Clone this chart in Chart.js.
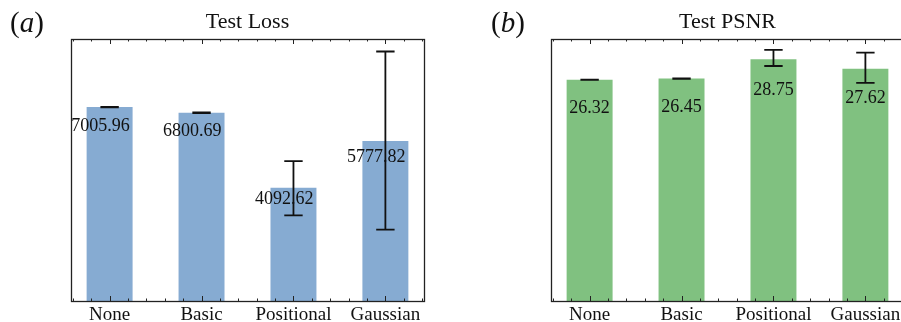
<!DOCTYPE html>
<html>
<head>
<meta charset="utf-8">
<script src="https://cdn.jsdelivr.net/npm/chart.js@4.4.0/dist/chart.umd.min.js"></script>
<style>
  html, body { margin: 0; padding: 0; background: #fff; width: 901px; height: 322px; overflow: hidden; }
  .panel { position: absolute; top: 0; height: 322px; }
  .tag { position: absolute; font-family: "Liberation Serif", serif; font-size: 29px; line-height: 29px; color: #111; }
</style>
</head>
<body>
<div class="panel" style="left:0;width:450px"><canvas id="chartLoss" width="450" height="322"></canvas></div>
<div class="panel" style="left:450px;width:460px"><canvas id="chartPsnr" width="460" height="322"></canvas></div>
<div class="tag" style="left:10px;top:8px">(<i>a</i>)</div>
<div class="tag" style="left:491px;top:8px">(<i>b</i>)</div>
<script>
const categories = ['None', 'Basic', 'Positional', 'Gaussian'];

const lossValues = [7005.96, 6800.69, 4092.62, 5777.82];
const lossErrUp = [10, 10, 964, 3238];
const lossErrDown = [10, 10, 996, 3202];
const lossMax = 9467;

const psnrValues = [26.32, 26.45, 28.75, 27.62];
const psnrErrUp = [0.02, 0.02, 1.11, 1.91];
const psnrErrDown = [0.02, 0.02, 0.80, 1.67];
const psnrMax = 31.16;

const SERIF = '"Liberation Serif", serif';

// value labels, error bars, box frame and inward ticks
const barExtras = {
  id: 'barExtras',
  afterDatasetsDraw(chart, args, opts) {
    const { ctx } = chart;
    const x = chart.scales.x;
    const y = chart.scales.y;
    const values = chart.data.datasets[0].data.map(d => d.y);
    ctx.save();
    ctx.font = `18px ${SERIF}`;
    ctx.fillStyle = '#111';
    ctx.textAlign = 'center';
    ctx.textBaseline = 'middle';
    values.forEach((v, i) => {
      ctx.fillText(v.toFixed(2), x.getPixelForValue(i + opts.labelShift), y.getPixelForValue(v * opts.labelFrac));
    });
    ctx.strokeStyle = '#111';
    ctx.lineWidth = 1.8;
    values.forEach((v, i) => {
      const xc = x.getPixelForValue(i);
      const xl = x.getPixelForValue(i - 0.1);
      const xr = x.getPixelForValue(i + 0.1);
      const top = y.getPixelForValue(v + opts.errUp[i]);
      const bot = y.getPixelForValue(v - opts.errDown[i]);
      ctx.beginPath();
      ctx.moveTo(xc, top); ctx.lineTo(xc, bot);
      ctx.moveTo(xl, top); ctx.lineTo(xr, top);
      ctx.moveTo(xl, bot); ctx.lineTo(xr, bot);
      ctx.stroke();
    });
    ctx.restore();
  },
  afterDraw(chart) {
    const { ctx, chartArea } = chart;
    const x = chart.scales.x;
    const { left, right, top, bottom } = chartArea;
    ctx.save();
    ctx.strokeStyle = '#222';
    ctx.lineWidth = 1.3;
    ctx.strokeRect(left + 0.5, top + 0.5, right - left, bottom - top);
    ctx.lineWidth = 1;
    ctx.beginPath();
    for (let k = -2; k <= 17; k++) {
      const v = k * 0.2;
      const major = k % 5 === 0 && k >= 0;
      const len = major ? 5 : 2.5;
      const px = Math.round(x.getPixelForValue(v)) + 0.5;
      ctx.moveTo(px, bottom); ctx.lineTo(px, bottom - len);
      ctx.moveTo(px, top); ctx.lineTo(px, top + len);
    }
    ctx.stroke();
    ctx.restore();
  }
};

function makeBarChart(canvasId, title, values, color, yMax, extras, padLeft, padRight) {
  return new Chart(document.getElementById(canvasId), {
    type: 'bar',
    data: {
      datasets: [{
        data: values.map((v, i) => ({ x: i, y: v })),
        backgroundColor: color,
        borderWidth: 0,
        barPercentage: 0.5,
        categoryPercentage: 1.0
      }]
    },
    options: {
      responsive: false,
      animation: false,
      devicePixelRatio: 1,
      layout: { padding: { left: padLeft, right: padRight, top: 0, bottom: 0 } },
      plugins: {
        legend: { display: false },
        tooltip: { enabled: false },
        title: {
          display: true,
          text: title,
          color: '#111',
          font: { family: SERIF, size: 22, weight: 'normal', lineHeight: 1.2 },
          padding: { top: 9.3, bottom: 3.3 }
        },
        barExtras: extras
      },
      scales: {
        x: {
          type: 'linear',
          offset: false,
          min: -0.42,
          max: 3.42,
          grid: { display: false, drawTicks: false, offset: false },
          border: { display: false },
          afterBuildTicks: scale => { scale.ticks = categories.map((c, i) => ({ value: i })); },
          afterFit: scale => { scale.height = 21; },
          ticks: {
            autoSkip: false,
            maxRotation: 0,
            padding: 3,
            color: '#111',
            font: { family: SERIF, size: 19 },
            callback: v => categories[v]
          }
        },
        y: {
          display: false,
          min: 0,
          max: yMax
        }
      }
    },
    plugins: [barExtras]
  });
}

makeBarChart('chartLoss', 'Test Loss', lossValues, '#86abd2', lossMax,
  { errUp: lossErrUp, errDown: lossErrDown, labelShift: -0.1, labelFrac: 0.9 }, 71, 26);
makeBarChart('chartPsnr', 'Test PSNR', psnrValues, '#80c180', psnrMax,
  { errUp: psnrErrUp, errDown: psnrErrDown, labelShift: 0, labelFrac: 0.873 }, 101, 6);
</script>
</body>
</html>
